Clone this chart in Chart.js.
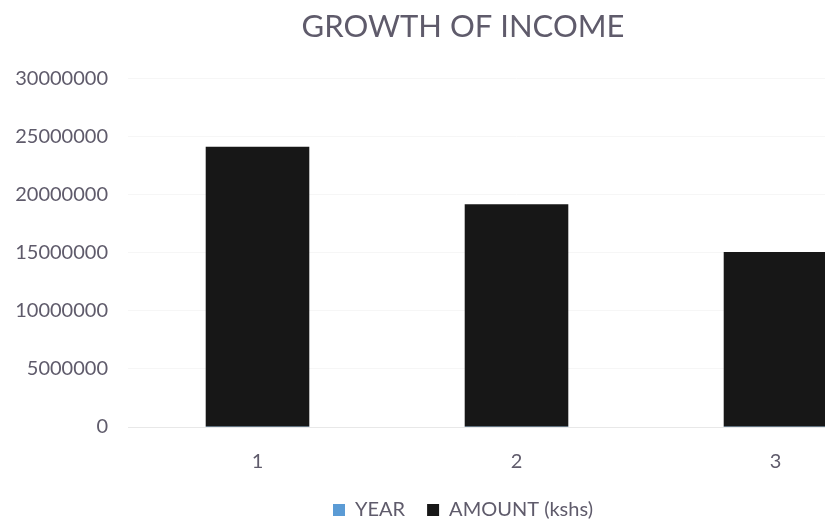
<!doctype html>
<html lang="en">
<head>
  <meta charset="utf-8">
  <title>Growth of Income</title>
  <script src="https://cdn.jsdelivr.net/npm/chart.js@4.4.1/dist/chart.umd.min.js"></script>
  <style>
    html, body { margin: 0; padding: 0; background: #ffffff; overflow: hidden; }
    /* the plot runs a bit wider than the window, third bar gets cut at the edge */
    .chart-box { width: 926px; height: 530px; }
  </style>
</head>
<body>
  <div class="chart-box">
    <canvas id="incomeChart" width="926" height="530"></canvas>
  </div>
  <script>
    // chart data
    const categories = ['1', '2', '3'];
    const yearValues = [2019, 2020, 2021];
    const amountValues = [24100000, 19150000, 15050000];
    const yTicks = [0, 5000000, 10000000, 15000000, 20000000, 25000000, 30000000];

    const textColor = '#5f5b6b';
    const fontFamily = 'Lato, "Open Sans", sans-serif';

    const ctx = document.getElementById('incomeChart').getContext('2d');
    const incomeChart = new Chart(ctx, {
      type: 'bar',
      data: {
        labels: categories,
        datasets: [{
          label: 'YEAR',
          data: yearValues,
          backgroundColor: '#5b9bd5',
          grouped: false,
          order: 1   // keep it behind the amount bars
        }, {
          label: 'AMOUNT (kshs)',
          data: amountValues,
          backgroundColor: '#171717',
          grouped: false,
          order: 0
        }]
      },
      options: {
        responsive: false,
        animation: false,
        layout: { padding: 0 },
        datasets: {
          bar: { categoryPercentage: 1.0, barPercentage: 0.4 }
        },
        plugins: {
          title: {
            display: true,
            text: 'GROWTH OF INCOME',
            color: textColor,
            font: { family: fontFamily, size: 31, weight: 'normal' },
            padding: { top: 8, bottom: 33 }
          },
          legend: {
            position: 'bottom',
            labels: {
              color: textColor,
              font: { family: fontFamily, size: 20 },
              boxWidth: 12,
              boxHeight: 12,
              padding: 22,
              sort: (a, b) => a.datasetIndex - b.datasetIndex
            }
          },
          tooltip: { enabled: false }
        },
        scales: {
          x: {
            grid: { display: false },
            border: { color: '#e8e8e8' },
            ticks: {
              color: textColor,
              font: { family: fontFamily, size: 20 },
              padding: 15
            },
            afterFit: function (scale) { scale.height = 51; }
          },
          y: {
            min: 0,
            max: 30000000,
            afterBuildTicks: function (scale) {
              scale.ticks = yTicks.map(v => ({ value: v }));
            },
            grid: { color: '#f6f6f6', drawTicks: false },
            border: { display: false },
            ticks: {
              color: textColor,
              font: { family: fontFamily, size: 20 },
              padding: 20,
              callback: function (value) { return String(value); }
            },
            afterFit: function (scale) { scale.width = 128; }
          },
          // empty strip on the right so title and legend stay centred on the whole box
          yRight: {
            position: 'right',
            grid: { display: false },
            border: { display: false },
            ticks: { display: false },
            afterFit: function (scale) { scale.width = 21; }
          }
        }
      }
    });
  </script>
</body>
</html>
